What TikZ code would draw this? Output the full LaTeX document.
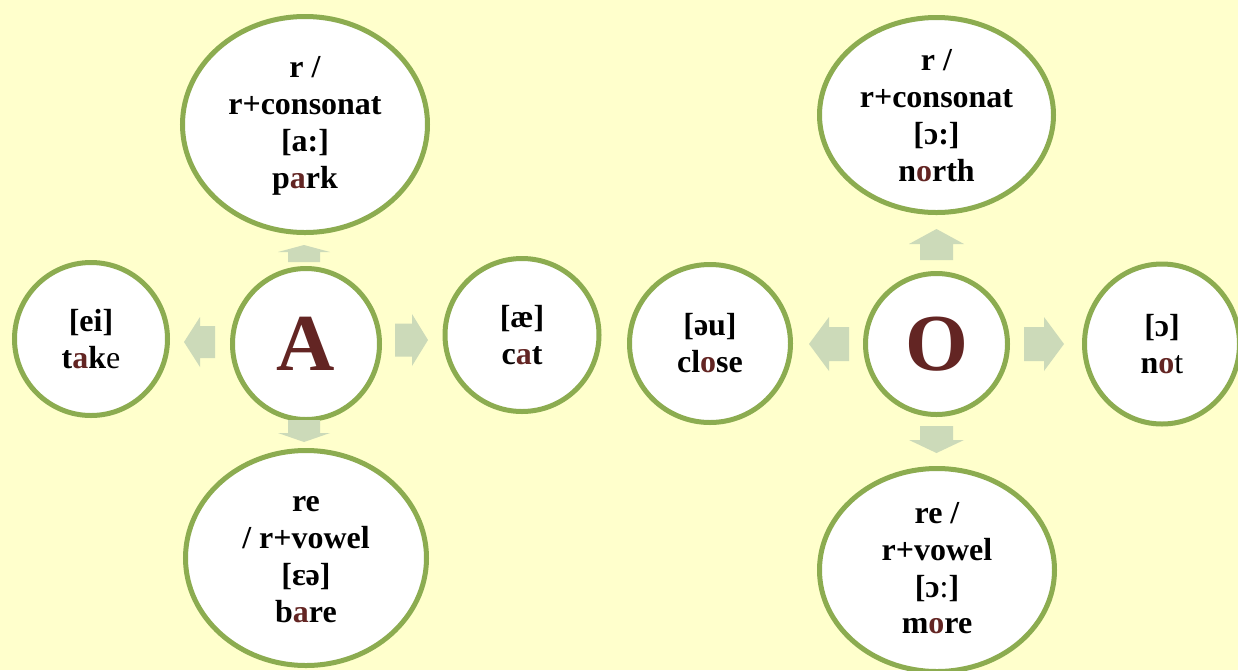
\documentclass[tikz,border=0pt]{standalone}
\usepackage{fontspec}
\setmainfont{Liberation Serif}
\usetikzlibrary{shapes.geometric}
\definecolor{paper}{RGB}{255,255,204}
\definecolor{ring}{RGB}{140,172,80}
\definecolor{pale}{RGB}{204,218,185}
\definecolor{letterred}{RGB}{99,37,35}
\newcommand{\vowel}[1]{{\color{letterred}#1}}

\begin{document}
\begin{tikzpicture}[scale=0.2,
    sound/.style={ellipse, draw=ring, fill=white, line width=0.1cm, inner sep=0pt,
      align=center, font=\fontsize{18.2}{21}\selectfont\bfseries},
    words/.style={inner sep=0pt, align=center, font=\fontsize{18.2}{21}\selectfont\bfseries},
    letter/.style={sound, font=\fontsize{46}{50}\selectfont\bfseries, text=letterred}]
        \useasboundingbox (0,0) rectangle (123.8,-67);
        \fill [paper] (0,0) rectangle (123.8,-67);
        \clip (0,0) rectangle (123.8,-67);
        % letter A
        \node [letter, minimum width=2.94cm, minimum height=3.02cm] (A) at (30.6,-34.4) {A};
        \node [sound, minimum width=3.06cm, minimum height=3.06cm] (take) at (9.1,-33.9) {{[ei]}\\ t\vowel{a}k\textmd{e}};
        \node [sound, minimum width=3.08cm, minimum height=3.06cm] (cat) at (52.2,-33.5) {{[æ]}\\ c\vowel{a}t};
        \node [sound, minimum width=4.9cm, minimum height=4.32cm] (park) at (30.5,-12.45) {};
        \node [words] (parktext) at ([yshift=-0.12cm]park.center) {r /\\ r+consonat\\ {[a:]}\\ p\vowel{a}rk};
        \node [sound, minimum width=4.82cm, minimum height=4.3cm] (bare) at (30.6,-55.8) {};
        \node [words] (baretext) at ([yshift=-0.14cm]bare.center) {re\\ / r+vowel\\ {[ɛə]}\\ b\vowel{a}re};
        \fill [pale] (28.8,-26.2) -- (28.8,-25.2) -- (27.8,-25.2) -- (30.4,-24.5) -- (33.0,-25.2) -- (32.0,-25.2) -- (32.0,-26.2) -- cycle;
        \fill [pale] (28.8,-42.0) -- (28.8,-43.3) -- (27.8,-43.3) -- (30.4,-44.2) -- (33.0,-43.3) -- (32.0,-43.3) -- (32.0,-42.0) -- cycle;
        \fill [pale] (21.5,-32.6) -- (20.0,-32.6) -- (20.0,-31.7) -- (18.4,-34.2) -- (20.0,-36.7) -- (20.0,-35.8) -- (21.5,-35.8) -- cycle;
        \fill [pale] (39.5,-32.35) -- (41.2,-32.35) -- (41.2,-31.4) -- (42.8,-34.0) -- (41.2,-36.6) -- (41.2,-35.65) -- (39.5,-35.65) -- cycle;
        % letter O
        \node [letter, minimum width=2.84cm, minimum height=2.82cm] (O) at (93.65,-34.4) {O};
        \node [sound, minimum width=3.22cm, minimum height=3.16cm] (close) at (71.0,-34.35) {{[əu]}\\ cl\vowel{o}se};
        \node [sound, minimum width=3.1cm, minimum height=3.2cm] (not) at (116.2,-34.4) {{[ɔ]}\\ n\vowel{o}\textmd{t}};
        \node [sound, minimum width=4.68cm, minimum height=3.9cm] (north) at (93.65,-11.5) {};
        \node [words] (northtext) at ([yshift=-0.06cm]north.center) {r /\\ r+consonat\\ {[ɔ:]}\\ n\vowel{o}rth};
        \node [sound, minimum width=4.7cm, minimum height=4.06cm] (more) at (93.7,-57.0) {};
        \node [words] (moretext) at ([yshift=0.18cm]more.center) {re /\\ r+vowel\\ {[ɔ\textmd{:}]}\\ m\vowel{o}re};
        \fill [pale] (92.0,-26.0) -- (92.0,-24.4) -- (90.9,-24.4) -- (93.65,-22.9) -- (96.4,-24.4) -- (95.3,-24.4) -- (95.3,-26.0) -- cycle;
        \fill [pale] (92.0,-42.6) -- (92.0,-44.0) -- (90.9,-44.0) -- (93.65,-45.3) -- (96.4,-44.0) -- (95.3,-44.0) -- (95.3,-42.6) -- cycle;
        \fill [pale] (84.9,-32.7) -- (82.9,-32.7) -- (82.9,-31.7) -- (80.9,-34.4) -- (82.9,-37.1) -- (82.9,-36.1) -- (84.9,-36.1) -- cycle;
        \fill [pale] (102.4,-32.7) -- (104.4,-32.7) -- (104.4,-31.7) -- (106.4,-34.4) -- (104.4,-37.1) -- (104.4,-36.1) -- (102.4,-36.1) -- cycle;
\end{tikzpicture}
\end{document}
